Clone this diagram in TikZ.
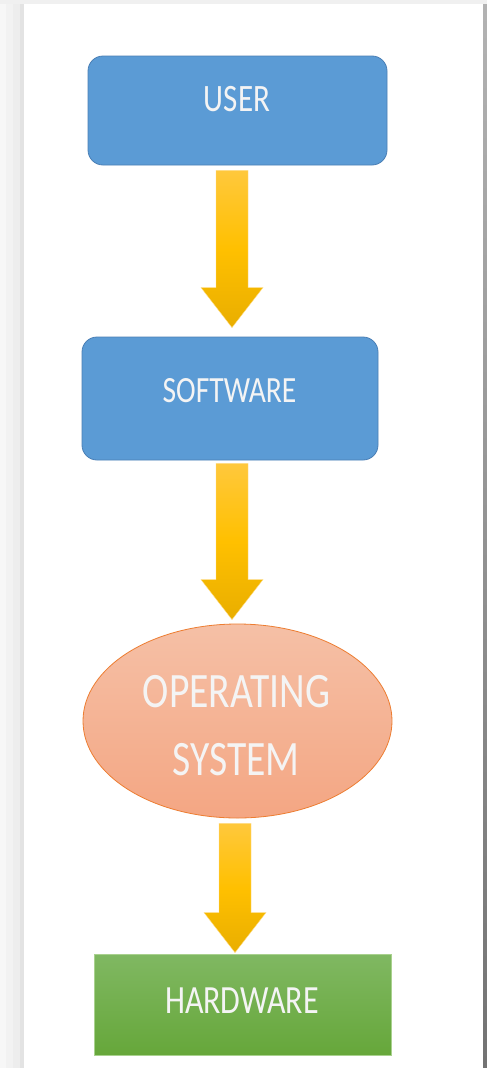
\documentclass[tikz,border=0pt]{standalone}
\usepackage{fontspec}
\setmainfont{Carlito}
\usetikzlibrary{shapes.geometric,calc}
\definecolor{userblue}{HTML}{5B9BD5}
\definecolor{userborder}{HTML}{4A7FB5}
\definecolor{arrtop}{HTML}{FFC83C}
\definecolor{arrmid}{HTML}{FFC000}
\definecolor{arrbot}{HTML}{E9AE00}
\definecolor{ostop}{HTML}{F5C0A6}
\definecolor{osbot}{HTML}{F4A683}
\definecolor{osborder}{HTML}{ED7D31}
\definecolor{hwtop}{HTML}{80B862}
\definecolor{hwbot}{HTML}{66A73A}
\definecolor{hwborder}{HTML}{A9D18E}
\definecolor{labelwhite}{HTML}{F4F4F4}
\newcommand\squeezetext[1]{\scalebox{0.8}[1]{#1}}
\newcommand\blockarrow[2]{%
  \path[arrowfill] let \p1=#1, \p2=#2 in
    (\x1-16pt,\y1) -- (\x1+16pt,\y1) -- (\x1+16pt,\y2+40pt) -- (\x1+31pt,\y2+40pt)
    -- (\x1,\y2) -- (\x1-31pt,\y2+40pt) -- (\x1-16pt,\y2+40pt) -- cycle;}
\begin{document}
\begin{tikzpicture}[x=1pt,y=-1pt,
  bluebox/.style={rectangle,rounded corners=15pt,fill=userblue,draw=userborder,line width=0.8pt,inner sep=0pt},
  osshape/.style={ellipse,top color=ostop,bottom color=osbot,draw=osborder,line width=0.8pt,inner sep=0pt,minimum width=309pt,minimum height=194pt},
  hwbox/.style={rectangle,top color=hwtop,bottom color=hwbot,draw=hwborder,line width=0.8pt,inner sep=0pt,minimum width=297pt,minimum height=101pt},
  arrowfill/.style={top color=arrtop,bottom color=arrbot,middle color=arrmid,draw=arrtop!60!white,line width=0.4pt},
  lbl/.style={text=labelwhite,anchor=base,inner sep=0pt}]
\useasboundingbox (0,0) rectangle (487,1068);
% page background and frame shadow
\fill[black!3] (0,0) rectangle (487,1068);
\fill[black!5] (6,0) rectangle (487,1068);
\fill[black!7] (13,0) rectangle (487,1068);
\fill[black!11] (20,0) rectangle (487,1068);
\fill[black!6] (0,0) rectangle (487,4);
\shade[top color=black!30,bottom color=black!55] (483,4) rectangle (487,1068);
\fill[white] (24,4) rectangle (483,1068);
% nodes
\node[bluebox,minimum width=299pt,minimum height=109pt] (user) at (237.5,110.5) {};
\node[bluebox,minimum width=296pt,minimum height=123pt] (software) at (230,398.5) {};
\node[osshape] (os) at (237.5,721) {};
\node[hwbox] (hardware) at (242.5,1004.5) {};
% labels
\node[lbl,font=\fontsize{38.8}{40}\selectfont] (tuser) at (237,111) {\squeezetext{USER}};
\node[lbl,font=\fontsize{37}{40}\selectfont] (tsoftware) at (229.5,402) {\squeezetext{SOFTWARE}};
\node[lbl,font=\fontsize{49.5}{50}\selectfont] (tos1) at (236.5,707) {\squeezetext{OPERATING}};
\node[lbl,font=\fontsize{49.5}{50}\selectfont] (tos2) at (236,775) {\squeezetext{SYSTEM}};
\node[lbl,font=\fontsize{40}{42}\selectfont] (thw) at (242,1013) {\squeezetext{HARDWARE}};
% block arrows
\blockarrow{($(user.south)+(-5.5,5)$)}{($(software.north)+(0,-9)$)}
\blockarrow{($(software.south)+(2,3)$)}{($(os.north)+(0,-4)$)}
\blockarrow{($(os.south)+(-2.5,5)$)}{($(hardware.north)+(0,-1)$)}
\end{tikzpicture}
\end{document}
